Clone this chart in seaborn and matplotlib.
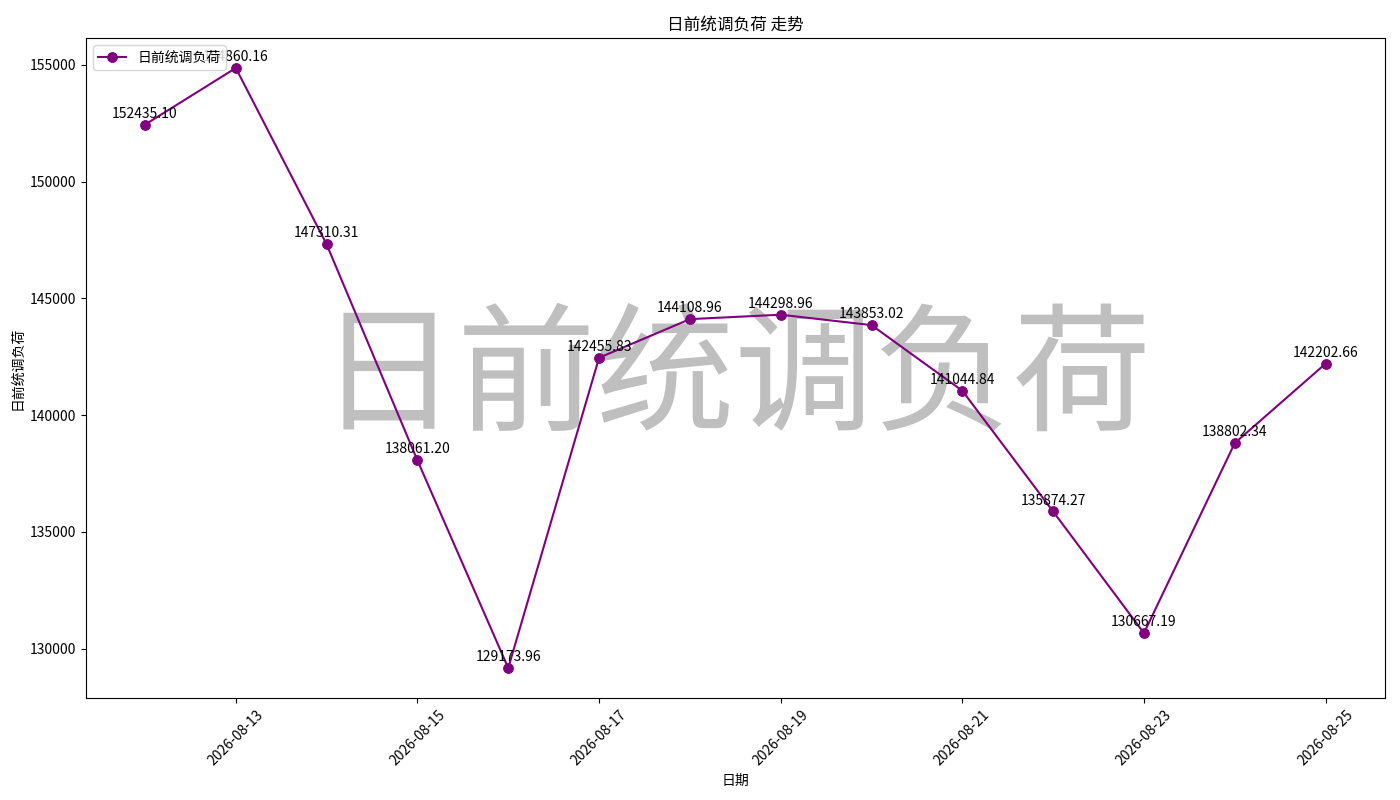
import numpy as np
import pandas as pd
import seaborn as sns
import matplotlib
matplotlib.use("Agg")
import matplotlib.pyplot as plt
import matplotlib.dates as mdates

plt.rcParams['font.family'] = ['Noto Sans CJK SC', 'DejaVu Sans']
plt.rcParams['axes.unicode_minus'] = False

# Data
dates = pd.date_range("2026-08-12", "2026-08-25", freq="D")
load_values = [152435.10, 154860.16, 147310.31, 138061.20, 129173.96, 142455.83, 144108.96,
               144298.96, 143853.02, 141044.84, 135874.27, 130667.19, 138802.34, 142202.66]
series_name = "日前统调负荷"

df = pd.DataFrame({"date": dates, "value": load_values})

fig, ax = plt.subplots(figsize=(14, 8), dpi=100)
sns.lineplot(data=df, x="date", y="value", marker="o", color="purple", markersize=7,
             markeredgecolor="purple", label=series_name, ax=ax)

# Value labels above each point
for d, v in zip(df["date"], df["value"]):
    ax.annotate(f"{v:.2f}", (d, v), textcoords="offset points", xytext=(0, 5),
                ha="center", fontsize=10)

# Watermark
ax.text(0.5, 0.48, series_name, transform=ax.transAxes, fontsize=100, color="gray",
        alpha=0.5, ha="center", va="center", zorder=0)

ax.xaxis.set_major_locator(mdates.DayLocator(bymonthday=range(1, 32, 2)))
ax.xaxis.set_major_formatter(mdates.DateFormatter("%Y-%m-%d"))
plt.setp(ax.get_xticklabels(), rotation=45)

ax.set_title(f"{series_name} 走势")
ax.set_xlabel("日期")
ax.set_ylabel(series_name)
ax.legend(loc="upper left")

fig.subplots_adjust(left=0.0614, right=0.989, top=0.9525, bottom=0.1275)
plt.savefig("out.png")
